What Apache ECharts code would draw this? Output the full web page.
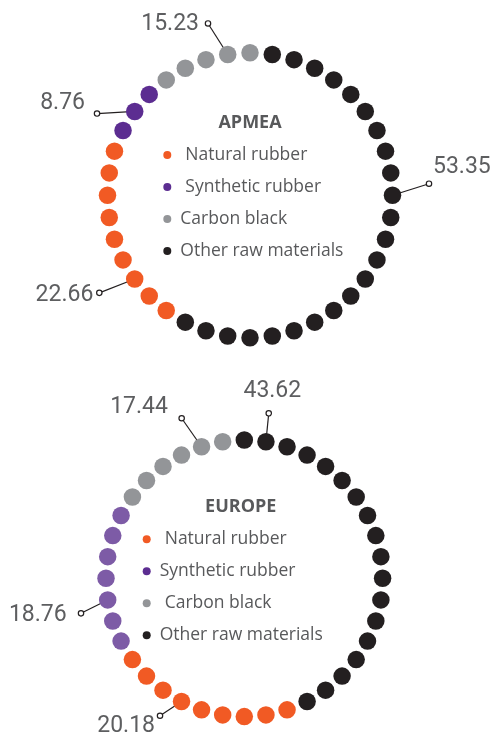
<!DOCTYPE html>
<html>
<head>
<meta charset="utf-8">
<script src="https://cdn.jsdelivr.net/npm/echarts@6/dist/echarts.min.js"></script>
<style>
  html, body { margin: 0; padding: 0; background: #ffffff; }
  #chart { width: 496px; height: 736px; }
</style>
</head>
<body>
<div id="chart"></div>
<script>
// Raw-material categories, in the order the dots run counter-clockwise from the top
const categories = ['Carbon black', 'Synthetic rubber', 'Natural rubber', 'Other raw materials'];
const legendOrder = ['Natural rubber', 'Synthetic rubber', 'Carbon black', 'Other raw materials'];

// Share of raw-material cost (%) per category
const apmeaShares = [15.23, 8.76, 22.66, 53.35];
const europeShares = [17.44, 18.76, 20.18, 43.62];

// Dots (out of 40 per ring) drawn for each category
const apmeaDots = [5, 3, 9, 23];
const europeDots = [6, 7, 9, 18];

const TOTAL_DOTS = 40;
const TEXT = '#58595b';
const INK = '#231f20';

const regions = [
  {
    name: 'APMEA', shares: apmeaShares, dots: apmeaDots,
    center: [250, 195.2], radius: 142.5, startAngle: 90,
    colors: ['#939598', '#5c2d91', '#f15a24', INK],
    title: { x: 250, y: 113.5 },
    legend: { left: 163.3, top: 146, pads: [9, 9, 4, 4] },
    // which dot inside each category carries the callout, and where the callout goes
    callouts: [
      { dot: 1,  dx: -19.7, dy: -31,  tx: -9,   ty: 0.7,  align: 'right' },
      { dot: 1,  dx: -37.7, dy: 2.1,  tx: -12,  ty: -10,  align: 'right' },
      { dot: 6,  dx: -35.4, dy: 13.9, tx: -6,   ty: 2.3,  align: 'right' },
      { dot: 13, dx: 36.5,  dy: -11.5, tx: 4,   ty: -16,  align: 'left' }
    ]
  },
  {
    name: 'EUROPE', shares: europeShares, dots: europeDots,
    center: [244.3, 578.3], radius: 138.3, startAngle: 99,
    colors: ['#939598', '#7d5ba6', '#f15a24', INK],
    legendColors: { 'Synthetic rubber': '#5c2d91' },
    title: { x: 240.7, y: 497.5 },
    legend: { left: 142.7, top: 530.3, pads: [9, 4, 9, 4] },
    callouts: [
      { dot: 1,  dx: -19.9, dy: -28.5, tx: -13.7, ty: -11,  align: 'right' },
      { dot: 4,  dx: -26.7, dy: 13.4,  tx: -14.3, ty: 1.7,  align: 'right' },
      { dot: 3,  dx: -21.5, dy: 14.2,  tx: -5,    ty: 11,   align: 'right' },
      { dot: 16, dx: 2.8,   dy: -28.4, tx: 3.6,   ty: -21.6, align: 'center' }
    ]
  }
];

const polar = [], angleAxis = [], radiusAxis = [], series = [], legend = [], title = [];

regions.forEach((reg, ri) => {
  polar.push({ center: reg.center, radius: reg.radius });
  angleAxis.push({
    polarIndex: ri, type: 'value', min: 0, max: TOTAL_DOTS,
    startAngle: reg.startAngle, clockwise: false, show: false
  });
  radiusAxis.push({ polarIndex: ri, type: 'value', min: 0, max: 1, show: false });

  // dots of each category, laid out one after another around the ring
  const calloutData = [];
  let start = 0;
  categories.forEach((cat, ci) => {
    const data = [];
    for (let k = 0; k < reg.dots[ci]; k++) data.push([1, start + k]);
    series.push({
      name: cat, type: 'scatter', coordinateSystem: 'polar', polarIndex: ri,
      symbol: 'circle', symbolSize: 17.5, silent: true, z: 3,
      itemStyle: { color: reg.colors[ci], opacity: 1 },
      data: data
    });
    calloutData.push([1, start + reg.callouts[ci].dot, reg.shares[ci], ci]);
    start += reg.dots[ci];
  });

  // value callouts: leader line from a dot to a small ring, with the share beside it
  series.push({
    type: 'custom', coordinateSystem: 'polar', polarIndex: ri, silent: true, z: 2,
    data: calloutData,
    renderItem: (params, api) => {
      const p = api.coord([api.value(0), api.value(1)]);
      const c = reg.callouts[api.value(3)];
      const ex = p[0] + c.dx, ey = p[1] + c.dy;
      return {
        type: 'group',
        children: [
          { type: 'line', shape: { x1: p[0], y1: p[1], x2: ex, y2: ey },
            style: { stroke: INK, lineWidth: 1.2 } },
          { type: 'circle', shape: { cx: ex, cy: ey, r: 2.7 },
            style: { fill: '#ffffff', stroke: INK, lineWidth: 1.2 }, z2: 5 },
          { type: 'text', x: ex + c.tx, y: ey + c.ty,
            style: {
              text: api.value(2).toFixed(2), align: c.align, verticalAlign: 'middle',
              fill: '#5d5e60', fontFamily: 'Roboto', fontWeight: 'normal', fontSize: 23
            } }
        ]
      };
    }
  });

  legend.push({
    orient: 'vertical', left: reg.legend.left, top: reg.legend.top,
    padding: 0, itemWidth: 8, itemHeight: 8, itemGap: 14, icon: 'circle',
    selectedMode: false,
    textStyle: { color: TEXT, fontFamily: 'Open Sans', fontSize: 17.5, lineHeight: 18 },
    data: legendOrder.map((n, i) => ({
      name: n,
      itemStyle: { color: (reg.legendColors && reg.legendColors[n]) || reg.colors[categories.indexOf(n)] },
      textStyle: { padding: [0, 0, 0, reg.legend.pads[i]] }
    }))
  });

  title.push({
    text: reg.name, left: reg.title.x, top: reg.title.y, textAlign: 'center', padding: 0,
    textStyle: { color: TEXT, fontFamily: 'Open Sans', fontWeight: 'bold', fontSize: 18 }
  });
});

const chart = echarts.init(document.getElementById('chart'), null, { renderer: 'canvas' });
chart.setOption({
  animation: false,
  backgroundColor: '#ffffff',
  title: title,
  legend: legend,
  polar: polar,
  angleAxis: angleAxis,
  radiusAxis: radiusAxis,
  series: series
});
</script>
</body>
</html>
